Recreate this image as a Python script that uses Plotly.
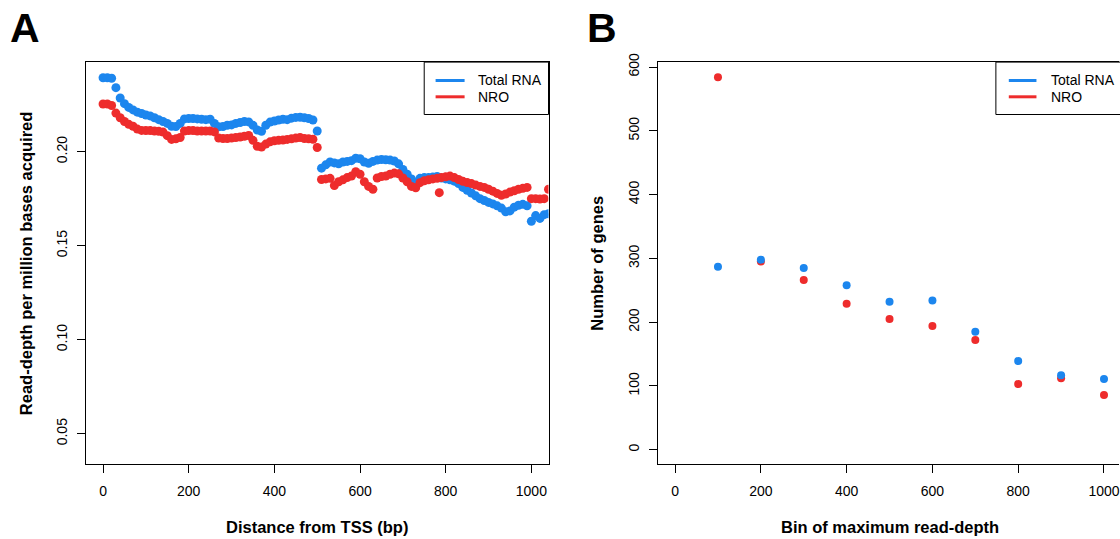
import plotly.graph_objects as go

# ---------------- data ----------------
series_names = ["Total RNA", "NRO"]
series_colors = ["#1C86EE", "#EE2C2C"]

# Panel A: read-depth profile vs distance from TSS (bp)
tss_dist = [0, 10, 20, 30, 40, 50, 60, 70, 80, 90,
            100, 110, 120, 130, 140, 150, 160, 170, 180, 190,
            200, 210, 220, 230, 240, 250, 260, 270, 280, 290,
            300, 310, 320, 330, 340, 350, 360, 370, 380, 390,
            400, 410, 420, 430, 440, 450, 460, 470, 480, 490,
            500, 510, 520, 530, 540, 550, 560, 570, 580, 590,
            600, 610, 620, 630, 640, 650, 660, 670, 680, 690,
            700, 710, 720, 730, 740, 750, 760, 770, 780, 790,
            800, 810, 820, 830, 840, 850, 860, 870, 880, 890,
            900, 910, 920, 930, 940, 950, 960, 970, 980, 990,
            1000, 1010, 1020, 1030, 1040]

total_rna_depth = [0.2393, 0.2393, 0.2390, 0.2340, 0.2285, 0.2255, 0.2235, 0.2222, 0.2210, 0.2203,
                   0.2195, 0.2190, 0.2180, 0.2170, 0.2160, 0.2150, 0.2135, 0.2133, 0.2150, 0.2174,
                   0.2176, 0.2176, 0.2174, 0.2172, 0.2170, 0.2172, 0.2150, 0.2132, 0.2133, 0.2140,
                   0.2142, 0.2150, 0.2155, 0.2160, 0.2158, 0.2140, 0.2115, 0.2108, 0.2140, 0.2157,
                   0.2163, 0.2168, 0.2172, 0.2170, 0.2178, 0.2182, 0.2183, 0.2180, 0.2176, 0.2168,
                   0.2110, 0.1912, 0.1930, 0.1945, 0.1940, 0.1935, 0.1945, 0.1948, 0.1952, 0.1965,
                   0.1962, 0.1945, 0.1938, 0.1948, 0.1955, 0.1958, 0.1957, 0.1955, 0.1950, 0.1935,
                   0.1905, 0.1880, 0.1855, 0.1835, 0.1858, 0.1862, 0.1862, 0.1865, 0.1868, 0.1860,
                   0.1855, 0.1850, 0.1843, 0.1830, 0.1810, 0.1795, 0.1780, 0.1765, 0.1750, 0.1740,
                   0.1730, 0.1722, 0.1712, 0.1700, 0.1680, 0.1685, 0.1705, 0.1715, 0.1720, 0.1712,
                   0.1630, 0.1660, 0.1645, 0.1665, 0.1670]

nro_depth = [0.2253, 0.2253, 0.2245, 0.2205, 0.2180, 0.2160, 0.2145, 0.2135, 0.2120, 0.2113,
             0.2112, 0.2112, 0.2110, 0.2108, 0.2104, 0.2085, 0.2065, 0.2068, 0.2075, 0.2110,
             0.2112, 0.2112, 0.2110, 0.2110, 0.2110, 0.2110, 0.2105, 0.2072, 0.2070, 0.2070,
             0.2072, 0.2075, 0.2078, 0.2082, 0.2086, 0.2060, 0.2028, 0.2024, 0.2040, 0.2052,
             0.2058, 0.2060, 0.2062, 0.2065, 0.2068, 0.2072, 0.2075, 0.2070, 0.2068, 0.2066,
             0.2022, 0.1852, 0.1855, 0.1858, 0.1820, 0.1840, 0.1850, 0.1862, 0.1870, 0.1893,
             0.1880, 0.1840, 0.1815, 0.1800, 0.1860, 0.1868, 0.1870, 0.1880, 0.1886, 0.1882,
             0.1860, 0.1840, 0.1815, 0.1808, 0.1835, 0.1845, 0.1850, 0.1855, 0.1858, 0.1862,
             0.1866, 0.1870, 0.1862, 0.1852, 0.1842, 0.1836, 0.1830, 0.1822, 0.1815, 0.1810,
             0.1800, 0.1790, 0.1778, 0.1768, 0.1775, 0.1785, 0.1792, 0.1800, 0.1805, 0.1810,
             0.1750, 0.1750, 0.1748, 0.1750, 0.1800]

nro_extra_dist = [785]
nro_extra_depth = [0.1782]

# Panel B: number of genes per bin of maximum read-depth
depth_bins = [100, 200, 300, 400, 500, 600, 700, 800, 900, 1000]
total_rna_genes = [287, 298, 285, 258, 232, 234, 185, 139, 117, 111]
nro_genes = [584, 295, 266, 229, 205, 194, 172, 103, 112, 86]

# tick values
a_xticks = [0, 200, 400, 600, 800, 1000]
a_yticks = [0.05, 0.10, 0.15, 0.20]
a_yticklabels = ["0.05", "0.10", "0.15", "0.20"]
b_xticks = [0, 200, 400, 600, 800, 1000]
b_yticks = [0, 100, 200, 300, 400, 500, 600]

# ---------------- figure ----------------
W, H = 1120, 539
FONT = "Liberation Sans, Arial, Helvetica, sans-serif"


def px(xp):
    """page x pixel -> paper fraction"""
    return xp / W


def py(yp):
    """page y pixel -> paper fraction"""
    return 1 - yp / H


fig = go.Figure()

# Panel A (blue first, red on top)
fig.add_trace(go.Scatter(x=tss_dist, y=total_rna_depth, mode="markers",
                         marker=dict(color=series_colors[0], size=9, line=dict(width=0)),
                         name=series_names[0], showlegend=False, xaxis="x", yaxis="y"))
fig.add_trace(go.Scatter(x=tss_dist + nro_extra_dist, y=nro_depth + nro_extra_depth, mode="markers",
                         marker=dict(color=series_colors[1], size=9, line=dict(width=0)),
                         name=series_names[1], showlegend=False, xaxis="x", yaxis="y"))

# Panel B (red first, blue on top)
fig.add_trace(go.Scatter(x=depth_bins, y=nro_genes, mode="markers",
                         marker=dict(color=series_colors[1], size=8, line=dict(width=0)),
                         name=series_names[1], showlegend=False, xaxis="x2", yaxis="y2"))
fig.add_trace(go.Scatter(x=depth_bins, y=total_rna_genes, mode="markers",
                         marker=dict(color=series_colors[0], size=8, line=dict(width=0)),
                         name=series_names[0], showlegend=False, xaxis="x2", yaxis="y2"))

ydom = [py(463), py(54)]
axis_common = dict(showgrid=False, zeroline=False, showline=True,
                   linecolor="black", linewidth=1, ticks="outside", ticklen=8,
                   tickcolor="black", tickwidth=1, ticklabeloverflow="allow",
                   tickfont=dict(family=FONT, size=14, color="black"))

fig.update_layout(
    width=W, height=H,
    margin=dict(l=0, r=0, t=0, b=0),
    paper_bgcolor="white", plot_bgcolor="white",
    showlegend=False,
    xaxis=dict(domain=[px(86), px(549)], range=[-40, 1040], mirror=True,
               tickvals=a_xticks, ticklabelstandoff=6, anchor="y", **axis_common),
    yaxis=dict(domain=ydom, range=[0.0338, 0.2476], tickvals=a_yticks, mirror=True,
               ticktext=a_yticklabels, tickangle=-90, ticklabelstandoff=4,
               anchor="x", **axis_common),
    xaxis2=dict(domain=[px(658.5), 1.0], range=[-40, 1035], mirror=True,
                tickvals=b_xticks, ticklabelstandoff=6, anchor="y2", **axis_common),
    yaxis2=dict(domain=ydom, range=[-22.7, 607.7], tickvals=b_yticks, mirror=False,
                tickangle=-90, ticklabelstandoff=4, anchor="x2", **axis_common),
)

# axis titles
title_font = dict(family=FONT, size=16.5, color="black")
fig.add_annotation(text="<b>Distance from TSS (bp)</b>", xref="x domain", yref="paper",
                   x=0.5, y=py(526.5), showarrow=False, font=title_font,
                   xanchor="center", yanchor="middle")
fig.add_annotation(text="<b>Read-depth per million bases acquired</b>", xref="paper", yref="y domain",
                   x=px(26), y=0.5, showarrow=False, font=title_font, textangle=-90,
                   xanchor="center", yanchor="middle")
fig.add_annotation(text="<b>Bin of maximum read-depth</b>", xref="paper", yref="paper",
                   x=px(890.5), y=py(526.5), showarrow=False, font=title_font,
                   xanchor="center", yanchor="middle")
fig.add_annotation(text="<b>Number of genes</b>", xref="paper", yref="y2 domain",
                   x=px(598), y=0.5, showarrow=False, font=title_font, textangle=-90,
                   xanchor="center", yanchor="middle")

# panel letters
for letter, lx in [("A", 8), ("B", 586)]:
    fig.add_annotation(text="<b>%s</b>" % letter, xref="paper", yref="paper",
                       x=px(lx), y=py(19), showarrow=False,
                       font=dict(family=FONT, size=41, color="black"),
                       xanchor="left", yanchor="middle")

# legends (drawn in each panel's domain coordinates)
legend_specs = [
    # xref, yref, box left, box right, line x0, line x1, text x
    ("x domain", "y domain", 0.7313, 1.0, 0.7559, 0.8186, 0.8438),
    ("x2 domain", "y2 domain", 0.7330, 1.006, 0.7610, 0.8210, 0.8483),
]
item_y = [0.9543, 0.9137]
for xr, yr, bx0, bx1, lx0, lx1, tx in legend_specs:
    fig.add_shape(type="rect", xref=xr, yref=yr, x0=bx0, x1=bx1, y0=0.8697, y1=1.0,
                  line=dict(color="black", width=1), fillcolor="white", layer="above")
    for name, col, yy in zip(series_names, series_colors, item_y):
        fig.add_shape(type="line", xref=xr, yref=yr, x0=lx0, x1=lx1, y0=yy, y1=yy,
                      line=dict(color=col, width=3), layer="above")
        fig.add_annotation(text=name, xref=xr, yref=yr, x=tx, y=yy, showarrow=False,
                           font=dict(family=FONT, size=14, color="black"),
                           xanchor="left", yanchor="middle")

fig.write_html("out.html", config={"displayModeBar": False},
               post_script="document.body.style.margin='0';document.body.style.overflow='hidden';")
